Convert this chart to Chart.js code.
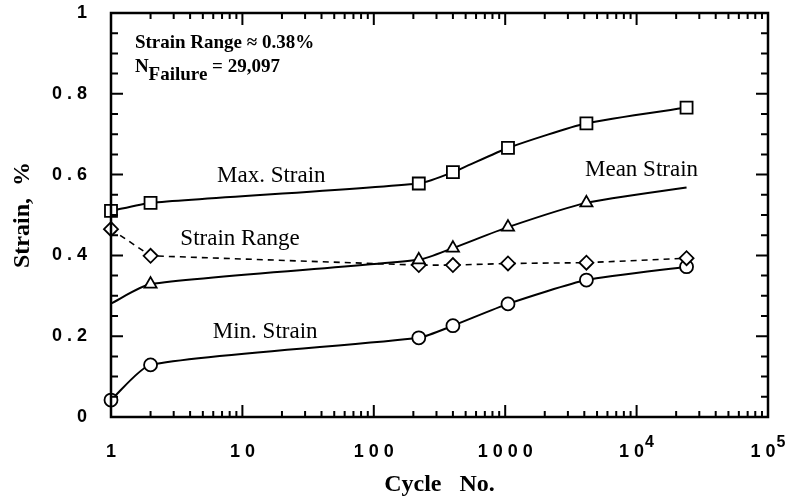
<!DOCTYPE html>
<html>
<head>
<meta charset="utf-8">
<script src="https://cdn.jsdelivr.net/npm/chart.js@4/dist/chart.umd.min.js"></script>
<style>
  html, body { margin: 0; padding: 0; background: #fff; }
  #wrap { width: 788px; height: 500px; position: relative; }
</style>
</head>
<body>
<div id="wrap"><canvas id="c" width="788" height="500"></canvas></div>
<script>
// ---- data ----
const cycles       = [1, 2, 220, 400, 1050, 4150, 24000];
const maxStrain    = [0.510, 0.530, 0.578, 0.606, 0.666, 0.727, 0.766];
const meanStrain   = [0.281, 0.329, 0.389, 0.418, 0.470, 0.530, 0.568];
const strainRange  = [0.465, 0.399, 0.376, 0.376, 0.380, 0.382, 0.393];
const minStrain    = [0.042, 0.129, 0.196, 0.226, 0.280, 0.339, 0.372];
const meanMarkers  = [false, true, true, true, true, true, false];

const xTickValues  = [1, 10, 100, 1000, 10000, 100000];
const xTickLabels  = ['1', '1 0', '1 0 0', '1 0 0 0', '1 0  ', '1 0  '];
const xTickExps    = ['', '', '', '', '4', '5'];
const yTickValues  = [0, 0.2, 0.4, 0.6, 0.8, 1];
const yTickLabels  = ['0', '0 . 2', '0 . 4', '0 . 6', '0 . 8', '1'];

const curveLabels = [
  { text: 'Max. Strain',  x: 16.6,  y: 0.597 },
  { text: 'Strain Range', x: 9.6,   y: 0.441 },
  { text: 'Mean Strain',  x: 10900, y: 0.611 },
  { text: 'Min. Strain',  x: 14.9,  y: 0.210 }
];
const noteLine1 = 'Strain Range \u2248 0.38%';
const noteN = 'N', noteSub = 'Failure', noteRest = ' = 29,097';

const tickFont = '"Liberation Sans", Arial, sans-serif';
const toXY = (xs, ys) => xs.map((x, i) => ({ x: x, y: ys[i] }));

const frameAndTicks = {
  id: 'frameAndTicks',
  afterDraw(chart) {
    const ctx = chart.ctx, a = chart.chartArea;
    const xs = chart.scales.x, ys = chart.scales.y;
    ctx.save();
    ctx.strokeStyle = '#000';
    // ticks
    ctx.lineWidth = 2;
    ctx.beginPath();
    for (let d = 0; d < 5; d++) {
      for (let m = 1; m <= 9; m++) {
        const v = Math.pow(10, d) * m;
        const px = xs.getPixelForValue(v);
        const len = (m === 1) ? 12 : 6;
        ctx.moveTo(px, a.bottom); ctx.lineTo(px, a.bottom - len);
        ctx.moveTo(px, a.top); ctx.lineTo(px, a.top + len);
      }
    }
    for (let k = 0; k <= 20; k++) {
      const v = k * 0.05;
      const py = ys.getPixelForValue(v);
      const len = (k % 4 === 0) ? 12 : 7;
      ctx.moveTo(a.left, py); ctx.lineTo(a.left + len, py);
      ctx.moveTo(a.right, py); ctx.lineTo(a.right - len, py);
    }
    ctx.stroke();
    // frame
    ctx.lineWidth = 2.5;
    ctx.strokeRect(a.left, a.top, a.right - a.left, a.bottom - a.top);

    // exponents of the x tick labels
    ctx.fillStyle = '#000';
    xTickValues.forEach((v, i) => {
      if (!xTickExps[i]) return;
      ctx.font = 'bold 18px ' + tickFont;
      const full = ctx.measureText(xTickLabels[i]).width;
      const base = ctx.measureText(xTickLabels[i].trimEnd()).width;
      const px = xs.getPixelForValue(v) - full / 2 + base + 1;
      ctx.font = 'bold 16px ' + tickFont;
      ctx.textAlign = 'left';
      ctx.textBaseline = 'alphabetic';
      ctx.fillText(xTickExps[i], px, a.bottom + 30);
    });

    // curve labels
    ctx.font = '23px "Liberation Serif", "Times New Roman", serif';
    ctx.textAlign = 'center';
    ctx.textBaseline = 'middle';
    curveLabels.forEach(l => {
      ctx.fillText(l.text, xs.getPixelForValue(l.x), ys.getPixelForValue(l.y));
    });

    // note
    const nx = xs.getPixelForValue(1.52);
    const ny1 = ys.getPixelForValue(0.926);
    ctx.textAlign = 'left';
    ctx.textBaseline = 'middle';
    ctx.font = 'bold 19px "Liberation Serif", "Times New Roman", serif';
    ctx.fillText(noteLine1, nx, ny1);
    ctx.textBaseline = 'alphabetic';
    const base2 = ny1 + 29;
    ctx.fillText(noteN, nx, base2);
    let w = ctx.measureText(noteN).width;
    ctx.fillText(noteSub, nx + w, base2 + 8);
    w += ctx.measureText(noteSub).width;
    ctx.fillText(noteRest, nx + w, base2);
    ctx.restore();
  }
};

const common = {
  borderColor: '#000',
  pointBorderColor: '#000',
  pointBackgroundColor: '#fff',
  pointBorderWidth: 1.8,
  borderWidth: 2,
  clip: false,
  showLine: true
};

new Chart(document.getElementById('c'), {
  type: 'scatter',
  data: {
    datasets: [
      Object.assign({}, common, {
        label: 'Max. Strain', data: toXY(cycles, maxStrain),
        pointStyle: 'rect', pointRadius: 8.5, tension: 0.2
      }),
      Object.assign({}, common, {
        label: 'Mean Strain', data: toXY(cycles, meanStrain),
        pointStyle: 'triangle', pointRadius: meanMarkers.map(m => m ? 7 : 0),
        tension: 0.2
      }),
      Object.assign({}, common, {
        label: 'Strain Range', data: toXY(cycles, strainRange),
        pointStyle: 'rectRot', pointRadius: 7, borderDash: [6, 5], borderWidth: 1.6,
        tension: 0
      }),
      Object.assign({}, common, {
        label: 'Min. Strain', data: toXY(cycles, minStrain),
        pointStyle: 'circle', pointRadius: 6.5, tension: 0.2
      })
    ]
  },
  options: {
    responsive: false,
    animation: false,
    layout: { padding: { top: 13, right: 20, left: 0, bottom: 0 } },
    plugins: { legend: { display: false }, tooltip: { enabled: false } },
    scales: {
      x: {
        type: 'logarithmic',
        min: 1, max: 100000,
        grid: { display: false, drawTicks: false },
        border: { display: false },
        afterBuildTicks: s => { s.ticks = xTickValues.map(v => ({ value: v })); },
        afterFit: s => { s.height = 83; s.paddingLeft = 0; s.paddingRight = 0; },
        ticks: {
          autoSkip: false, maxRotation: 0, padding: 24, color: '#000',
          font: { family: tickFont, size: 18, weight: 'bold' },
          callback: (v) => { const i = xTickValues.indexOf(v); return i >= 0 ? xTickLabels[i] : ''; }
        },
        title: {
          display: true, text: 'Cycle   No.', color: '#000',
          font: { family: '"Liberation Serif", "Times New Roman", serif', size: 24, weight: 'bold' },
          padding: { top: 0, bottom: 1 }
        }
      },
      y: {
        min: 0, max: 1,
        grid: { display: false, drawTicks: false },
        border: { display: false },
        afterBuildTicks: s => { s.ticks = yTickValues.map(v => ({ value: v })); },
        afterFit: s => { s.width = 111; s.paddingTop = 0; s.paddingBottom = 0; },
        ticks: {
          autoSkip: false, padding: 24, color: '#000',
          font: { family: tickFont, size: 18, weight: 'bold' },
          callback: (v) => { const i = yTickValues.findIndex(t => Math.abs(t - v) < 1e-9); return i >= 0 ? yTickLabels[i] : ''; }
        },
        title: {
          display: true, text: 'Strain,  %', color: '#000',
          font: { family: '"Liberation Serif", "Times New Roman", serif', size: 24, weight: 'bold' },
          padding: { top: 8, bottom: 0 }
        }
      }
    }
  },
  plugins: [frameAndTicks]
});
</script>
</body>
</html>
